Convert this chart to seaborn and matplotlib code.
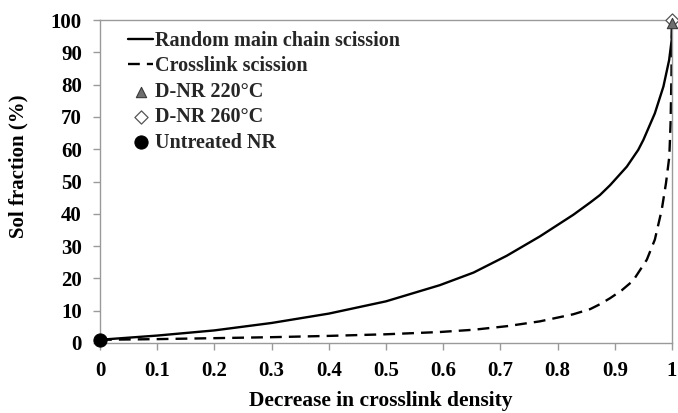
import matplotlib
matplotlib.use("Agg")
import matplotlib.pyplot as plt
import seaborn as sns
import pandas as pd

# Data
random_x = [0.0, 0.1, 0.2, 0.3, 0.4, 0.5, 0.594, 0.653, 0.711, 0.769, 0.8275, 0.857,
            0.874, 0.892, 0.921, 0.941, 0.95, 0.97, 0.985, 0.995, 0.9994, 1.0]
random_y = [1.0, 2.3, 3.9, 6.2, 9.1, 12.9, 17.9, 21.8, 27.0, 33.0, 39.7, 43.5,
            45.8, 48.9, 54.6, 59.8, 62.9, 71.1, 79.4, 87.6, 93.8, 98.5]

cross_x = [0.0, 0.1, 0.2, 0.3, 0.4, 0.5, 0.594, 0.653, 0.711, 0.769, 0.8275, 0.857,
           0.874, 0.892, 0.912, 0.932, 0.956, 0.97, 0.982, 0.9895, 0.9953, 0.9975, 0.999, 1.0]
cross_y = [1.0, 1.2, 1.5, 1.8, 2.2, 2.7, 3.4, 4.1, 5.2, 6.7, 8.9, 10.5,
           12.0, 13.9, 16.3, 19.3, 25.8, 32.0, 41.2, 49.5, 57.7, 68.0, 82.0, 98.5]

dnr220_x = [1.0]
dnr220_y = [99.0]
dnr260_x = [1.0]
dnr260_y = [100.0]
untreated_x = [0.0]
untreated_y = [1.0]

series_names = ["Random main chain scission", "Crosslink scission",
                "D-NR 220°C", "D-NR 260°C", "Untreated NR"]

x_ticks = [0, 0.1, 0.2, 0.3, 0.4, 0.5, 0.6, 0.7, 0.8, 0.9, 1]
x_tick_labels = ["0", "0.1", "0.2", "0.3", "0.4", "0.5", "0.6", "0.7", "0.8", "0.9", "1"]
y_ticks = [0, 10, 20, 30, 40, 50, 60, 70, 80, 90, 100]

sns.set_theme(style="white")
plt.rcParams["font.family"] = ["Liberation Serif", "DejaVu Serif"]
plt.rcParams["font.weight"] = "bold"

fig = plt.figure(figsize=(6.78, 4.13), dpi=100)
ax = fig.add_axes([100 / 678, 1 - 343 / 413, 572 / 678, 323 / 413])

df_r = pd.DataFrame({"x": random_x, "y": random_y})
df_c = pd.DataFrame({"x": cross_x, "y": cross_y})

sns.lineplot(data=df_r, x="x", y="y", ax=ax, color="black", lw=1.7,
             label=series_names[0], sort=False, estimator=None)
sns.lineplot(data=df_c, x="x", y="y", ax=ax, color="black", lw=1.7,
             label=series_names[1], sort=False, estimator=None)
ax.lines[1].set_dashes((5, 3))
for ln in ax.lines[:2]:
    ln.set_solid_joinstyle("round")
    ln.set_dash_joinstyle("round")

sns.scatterplot(x=dnr220_x, y=dnr220_y, ax=ax, marker="^", s=55,
                color="#6e6e6e", edgecolor="#3a3a3a", linewidth=0.8,
                label=series_names[2], clip_on=False, zorder=5)
sns.scatterplot(x=dnr260_x, y=dnr260_y, ax=ax, marker="D", s=45,
                color="white", edgecolor="#555555", linewidth=0.9,
                label=series_names[3], clip_on=False, zorder=4)
sns.scatterplot(x=untreated_x, y=untreated_y, ax=ax, marker="o", s=90,
                color="black", edgecolor="black", label=series_names[4],
                clip_on=False, zorder=6)

ax.set_xlim(0, 1)
ax.set_ylim(0, 100)
ax.set_xticks(x_ticks)
ax.set_xticklabels(x_tick_labels)
ax.set_yticks(y_ticks)

for sp in ax.spines.values():
    sp.set_visible(True)
    sp.set_color("#9a9a9a")
    sp.set_linewidth(1.0)

ax.tick_params(axis="both", direction="out", length=5, width=1.0,
               color="#9a9a9a", labelsize=15, bottom=True, left=True)
ax.tick_params(axis="y", pad=8)
ax.tick_params(axis="x", pad=8)
for lab in ax.get_xticklabels() + ax.get_yticklabels():
    lab.set_fontweight("bold")
    lab.set_color("black")

ax.set_xlabel("Decrease in crosslink density", fontsize=15.5, fontweight="bold",
              color="black")
ax.set_ylabel("Sol fraction (%)", fontsize=15, fontweight="bold", color="black")
ax.xaxis.set_label_coords(0.49, -0.148)
ax.yaxis.set_label_coords(-0.125, 0.548)

leg = ax.legend(loc="upper left", bbox_to_anchor=(128 / 678, 1 - 31 / 413),
                bbox_transform=fig.transFigure, frameon=False,
                prop={"family": "Liberation Serif", "weight": "bold", "size": 14.5},
                handlelength=1.25, handletextpad=0.1, labelspacing=0.27,
                borderaxespad=0, borderpad=0)

fig.savefig("out.png", dpi=100)
